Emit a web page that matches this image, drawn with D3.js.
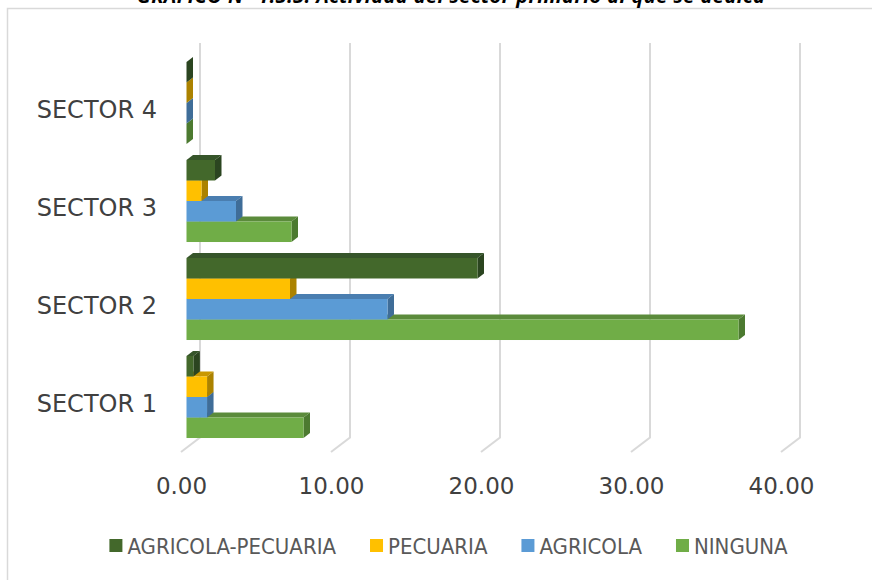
<!DOCTYPE html>
<html>
<meta charset="utf-8">
<!-- Load d3.js -->
<script src="https://d3js.org/d3.v7.min.js"></script>

<style>
    body { margin: 0; background: #fff; }
    .tick text { fill: #404040; font-family: "DejaVu Sans", sans-serif; font-size: 23px; }
    .yaxis .tick text { font-size: 24px; }
    .legend text { fill: #595959; font-family: "Liberation Sans Narrow", "DejaVu Sans Condensed", sans-serif; font-size: 22px; }
</style>

<div id="chart"></div>

<script>

// data (percent of households)
var sectors = ["SECTOR 1", "SECTOR 2", "SECTOR 3", "SECTOR 4"];
var seriesNames = ["AGRICOLA-PECUARIA", "PECUARIA", "AGRICOLA", "NINGUNA"];
var agricolaPecuaria = [0.46, 19.4, 1.9, 0];
var pecuaria = [1.37, 6.9, 1.0, 0];
var agricola = [1.37, 13.4, 3.3, 0];
var ninguna = [7.8, 36.8, 7.0, 0];
var xTicks = [0, 10, 20, 30, 40];
var titleText = "GRÁFICO N° 1.5.5. Actividad del sector primario al que se dedica";

// colours: front, top, side
var colFront = ["#43682b", "#ffc000", "#5b9bd5", "#70ad47"];
var colTop   = ["#36552a", "#c99700", "#4a7eb0", "#5b8b3b"];
var colSide  = ["#2b4520", "#ab8200", "#3f6d98", "#4c7a30"];

var seriesValues = [agricolaPecuaria, pecuaria, agricola, ninguna];

var width = 872, height = 580;

// 3d geometry: front floor edge, bar plane, back wall
var frontX0 = 181, frontY = 452;
var backX0 = 200, backYBottom = 437.5, backYTop = 43;
var barX0 = 186.5;
var depthX = 6.5, depthY = 5;

var svg = d3.select("#chart")
    .append("svg")
        .attr("width", width)
        .attr("height", height);

// chart frame
svg.append("path")
    .attr("d", "M7.5,580 V8.5 H872")
    .attr("fill", "none")
    .attr("stroke", "#d9d9d9")
    .attr("stroke-width", 1.5);

// title (cut at the top in the picture)
svg.append("text")
    .attr("x", 451)
    .attr("y", 3)
    .attr("text-anchor", "middle")
    .attr("textLength", 628)
    .style("font-family", "'Open Sans', sans-serif")
    .style("font-size", "20px")
    .style("font-weight", "bold")
    .style("font-style", "italic")
    .style("fill", "#000")
    .text(titleText);

//-----------//
//  Scales   //
//-----------//

var x = d3.scaleLinear()
    .domain([0, 40])
    .range([0, 600]);

var y = d3.scaleBand()
    .domain(sectors.slice().reverse())
    .range([54, 446])
    .paddingInner(0.163)
    .paddingOuter(0.0815);

var ySub = d3.scaleBand()
    .domain(seriesNames)
    .range([0, y.bandwidth()]);

//-------------//
//  Gridlines  //
//-------------//

svg.append("g")
    .selectAll("path")
    .data(xTicks)
    .enter()
    .append("path")
        .attr("d", function(d) {
            return "M" + (backX0 + x(d)) + "," + backYTop +
                   " V" + backYBottom +
                   " L" + (frontX0 + x(d)) + "," + frontY;
        })
        .attr("fill", "none")
        .attr("stroke", "#d9d9d9")
        .attr("stroke-width", 2);

//------------//
//    Axes    //
//------------//

var xAxis = svg.append("g")
    .attr("transform", "translate(" + frontX0 + ",478)")
    .call(d3.axisBottom(x).tickValues(xTicks).tickSize(0).tickPadding(0).tickFormat(d3.format(".2f")));
xAxis.select(".domain").remove();

var yAxis = svg.append("g")
    .attr("class", "yaxis")
    .attr("transform", "translate(157,7)")
    .call(d3.axisLeft(y).tickSize(0).tickPadding(0));
yAxis.select(".domain").remove();

//------------//
//    Bars    //
//------------//

function pts(arr) {
    return arr.map(function(p) { return p[0] + "," + p[1]; }).join(" ");
}

// build one record per bar, lower bars first so upper ones cover their tops
var bars = [];
sectors.forEach(function(s, si) {
    for (var k = seriesNames.length - 1; k >= 0; k--) {
        bars.push({ sector: s, k: k, value: seriesValues[k][si] });
    }
});

var barG = svg.append("g")
    .selectAll("g")
    .data(bars)
    .enter()
    .append("g");

// top face
barG.append("polygon")
    .attr("points", function(d) {
        var x1 = barX0, x2 = barX0 + x(d.value);
        var yt = y(d.sector) + ySub(seriesNames[d.k]);
        return pts([[x1, yt], [x2, yt], [x2 + depthX, yt - depthY], [x1 + depthX, yt - depthY]]);
    })
    .attr("fill", function(d) { return colTop[d.k]; });

// side face
barG.append("polygon")
    .attr("points", function(d) {
        var x2 = barX0 + x(d.value);
        var yt = y(d.sector) + ySub(seriesNames[d.k]);
        var yb = yt + ySub.bandwidth();
        return pts([[x2, yt], [x2 + depthX, yt - depthY], [x2 + depthX, yb - depthY], [x2, yb]]);
    })
    .attr("fill", function(d) { return colSide[d.k]; });

// front face
barG.append("rect")
    .attr("x", barX0)
    .attr("y", function(d) { return y(d.sector) + ySub(seriesNames[d.k]); })
    .attr("width", function(d) { return x(d.value); })
    .attr("height", ySub.bandwidth())
    .attr("fill", function(d) { return colFront[d.k]; });

//------------//
//   Legend   //
//------------//

var legend = svg.append("g").attr("class", "legend");
var items = legend.selectAll("g")
    .data(seriesNames)
    .enter()
    .append("g");

items.append("rect")
    .attr("width", 13)
    .attr("height", 13)
    .attr("y", 539)
    .attr("fill", function(d, i) { return colFront[i]; });

items.append("text")
    .attr("x", 18)
    .attr("y", 554)
    .text(function(d) { return d; });

// lay the items out in a row, centred
var cx = 0;
var offsets = [];
items.each(function() {
    offsets.push(cx);
    cx += 18 + d3.select(this).select("text").node().getComputedTextLength() + 34;
});
var total = cx - 34;
var start = 448.5 - total / 2;
items.attr("transform", function(d, i) { return "translate(" + (start + offsets[i]) + ",0)"; });

</script>

</html>
